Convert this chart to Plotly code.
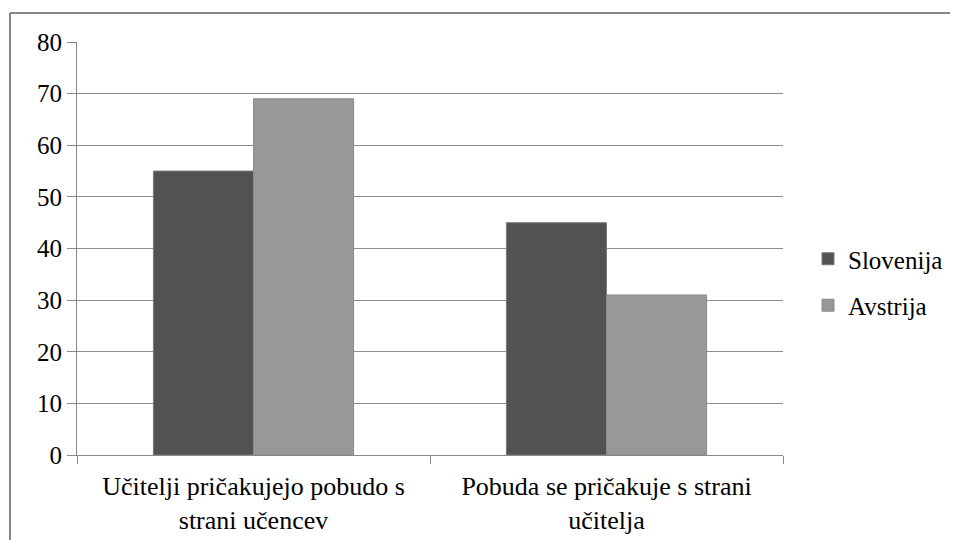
import plotly.graph_objects as go

categories = ["Učitelji pričakujejo pobudo s strani učencev",
              "Pobuda se pričakuje s strani učitelja"]
tick_labels = ["Učitelji pričakujejo pobudo s<br>strani učencev",
               "Pobuda se pričakuje s strani<br>učitelja"]
series_names = ["Slovenija", "Avstrija"]
slovenija = [55, 45]
avstrija = [69, 31]
y_ticks = [0, 10, 20, 30, 40, 50, 60, 70, 80]

FONT = "Times New Roman, Liberation Serif, Tinos, DejaVu Serif, serif"
fig = go.Figure()
fig.add_trace(go.Bar(x=categories, y=slovenija, name=series_names[0], legendgroup="a",
                     marker=dict(color="#525252", line=dict(color="#7a7a7a", width=1))))
fig.add_trace(go.Bar(x=categories, y=avstrija, name=series_names[1], legendgroup="b",
                     marker=dict(color="#989898", line=dict(color="#8a8a8a", width=1))))

OFF = 8  # page body margin
W, H = 958 - OFF, 540 - OFF
L, T = 77 - OFF, 42 - OFF
pw, ph = 706, 413
R, B = W - L - pw, H - T - ph

def px(x):
    return (x - OFF - L) / pw

def py(y):
    return (T + ph - (y - OFF)) / ph

fig.update_layout(
    width=W, height=H,
    margin=dict(l=L, r=R, t=T, b=B, autoexpand=False),
    paper_bgcolor="white", plot_bgcolor="white",
    barmode="group", bargap=0.433, bargroupgap=0,
    font=dict(family=FONT, size=25, color="#000000"),
    showlegend=True,
    legend=dict(x=px(808), y=py(282), xanchor="left", yanchor="middle",
                font=dict(family=FONT, size=25, color="#000000"),
                bgcolor="rgba(0,0,0,0)", itemwidth=30,
                traceorder="grouped", tracegroupgap=11),
    xaxis=dict(tickmode="array", tickvals=categories, ticktext=tick_labels,
               showline=True, linecolor="#888888", linewidth=1,
               ticks="outside", tickson="boundaries", ticklen=8, tickcolor="#888888",
               ticklabelstandoff=8,
               showgrid=False, tickfont=dict(family=FONT, size=26)),
    yaxis=dict(range=[0, 80], tickvals=y_ticks, showline=True, linecolor="#888888",
               linewidth=1, ticks="outside", ticklen=9, tickcolor="#888888",
               showgrid=True, gridcolor="#8c8c8c", gridwidth=1, zeroline=False,
               tickfont=dict(family=FONT, size=25)),
    shapes=[
        dict(type="line", xref="paper", yref="paper",
             x0=px(10), x1=px(970), y0=py(13), y1=py(13),
             line=dict(color="#868686", width=2)),
        dict(type="line", xref="paper", yref="paper",
             x0=px(10), x1=px(10), y0=py(13), y1=py(560),
             line=dict(color="#868686", width=2)),
    ],
)

fig.write_html("out.html")
